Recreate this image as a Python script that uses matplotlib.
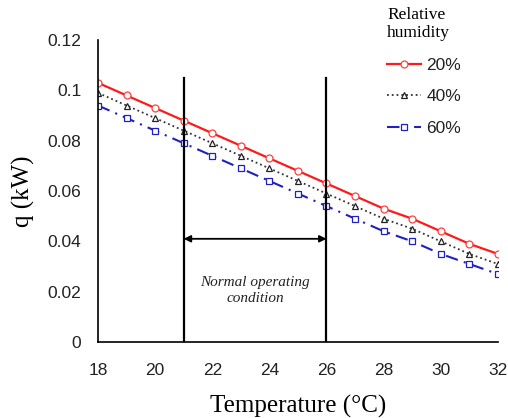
import matplotlib
matplotlib.use('Agg')
import matplotlib.pyplot as plt

# data
temps = [18, 19, 20, 21, 22, 23, 24, 25, 26, 27, 28, 29, 30, 31, 32]
q_rh20 = [0.103, 0.098, 0.093, 0.088, 0.083, 0.078, 0.073, 0.068, 0.063, 0.058, 0.053, 0.049, 0.044, 0.039, 0.035]
q_rh40 = [0.099, 0.094, 0.089, 0.084, 0.079, 0.074, 0.069, 0.064, 0.059, 0.054, 0.049, 0.045, 0.040, 0.035, 0.031]
q_rh60 = [0.094, 0.089, 0.084, 0.079, 0.074, 0.069, 0.064, 0.059, 0.054, 0.049, 0.044, 0.040, 0.035, 0.031, 0.027]
band = [21, 26]
band_top = 0.105
arrow_y = 0.041
x_ticks = [18, 20, 22, 24, 26, 28, 30, 32]
y_ticks = [0, 0.02, 0.04, 0.06, 0.08, 0.1, 0.12]
y_tick_labels = ['0', '0.02', '0.04', '0.06', '0.08', '0.1', '0.12']

sans = 'Liberation Sans'
serif = 'Liberation Serif'

fig = plt.figure(figsize=(5.08, 4.18), dpi=100)
ax = fig.add_axes([0.193, 0.182, 0.787, 0.722])

ax.plot(temps, q_rh20, color='#ff1a1a', linestyle='-', linewidth=1.6,
        marker='o', markersize=5, markerfacecolor='white', markeredgecolor='#ff4040',
        markeredgewidth=0.9, label='20%')
ax.plot(temps, q_rh40, color='#333333', linestyle=':', linewidth=1.3,
        marker='^', markersize=5, markerfacecolor='white', markeredgecolor='#222222',
        markeredgewidth=0.9, label='40%')
ax.plot(temps, q_rh60, color='#2020c0', linestyle=(0, (6, 3, 1, 3)), linewidth=1.5,
        marker='s', markersize=5, markerfacecolor='white', markeredgecolor='#2020c0',
        markeredgewidth=0.9, label='60%')

for xb in band:
    ax.plot([xb, xb], [0, band_top], color='black', linewidth=1.6)

ax.annotate('', xy=(band[0], arrow_y), xytext=(band[1], arrow_y),
            arrowprops=dict(arrowstyle='<|-|>', color='black', lw=1.3,
                            mutation_scale=10, shrinkA=0, shrinkB=0))
ax.text(sum(band) / 2, 0.0205, 'Normal operating\ncondition', ha='center', va='center',
        fontsize=11, style='italic', family=serif, linespacing=1.35, color='#222222')

ax.set_xlim(18, 32)
ax.set_ylim(0, 0.12)
ax.set_xticks(x_ticks)
ax.set_yticks(y_ticks)
ax.set_yticklabels(y_tick_labels)
ax.tick_params(length=0, labelsize=12.5)
for lab in ax.get_xticklabels() + ax.get_yticklabels():
    lab.set_family(sans)
    lab.set_color('#222222')
ax.tick_params(axis='y', pad=12)
ax.tick_params(axis='x', pad=15)

ax.spines['top'].set_visible(False)
ax.spines['right'].set_visible(False)
ax.spines['left'].set_linewidth(1.2)
ax.spines['bottom'].set_linewidth(1.2)

ax.set_xlabel('Temperature (°C)', family=serif, fontsize=18, labelpad=12)
ax.set_ylabel('q (kW)', family=serif, fontsize=18, labelpad=9)

leg = ax.legend(loc='upper left', bbox_to_anchor=(0.762, 0.984), bbox_transform=fig.transFigure,
                frameon=False, title='Relative\nhumidity', handlelength=1.95,
                handletextpad=0.3, labelspacing=0.95, borderaxespad=0, borderpad=0,
                prop={'family': sans, 'size': 12.5})
leg.get_title().set_family(serif)
leg.get_title().set_fontsize(12.5)
leg._legend_box.align = 'left'
for t in leg.get_texts():
    t.set_color('#222222')

fig.savefig('out.png', dpi=100)
